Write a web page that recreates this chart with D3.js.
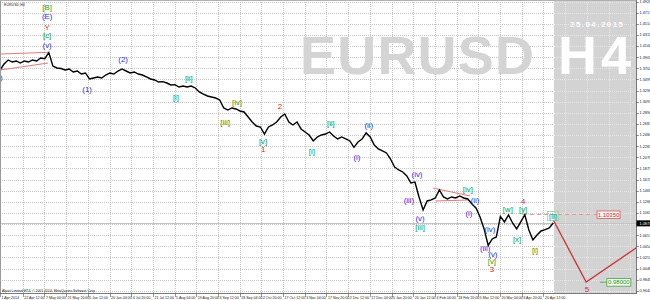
<!DOCTYPE html>
<html>
<head>
<meta charset="utf-8">
<script src="https://cdn.jsdelivr.net/npm/d3@7"></script>
<style>
body { margin: 0; background: #fff; }
svg { display: block; font-family: "Liberation Sans", Arial, sans-serif; }
.waves { opacity: 0.995; }
</style>
</head>
<body>
<div id="chart"></div>
<script>
/* EURUSD H4 wave count, 1 Apr 2014 - 25 Apr 2015 */

// closes, one every 12 H4 bars
var barStep = 12;
var closes = [
  1.3672, 1.3782, 1.3855, 1.3818, 1.3837, 1.3800, 1.3837, 1.3818, 1.3855, 1.3837,
  1.3891, 1.3880, 1.3990, 1.3745, 1.3709, 1.3700, 1.3672, 1.3691, 1.3636, 1.3654,
  1.3599, 1.3618, 1.3508, 1.3526, 1.3545, 1.3526, 1.3581, 1.3618, 1.3599, 1.3654,
  1.3691, 1.3654, 1.3618, 1.3636, 1.3599, 1.3581, 1.3545, 1.3508, 1.3490, 1.3453,
  1.3460, 1.3435, 1.3399, 1.3405, 1.3362, 1.3380, 1.3362, 1.3380, 1.3344, 1.3271,
  1.3234, 1.3198, 1.3180, 1.3161, 1.3125, 1.2979, 1.2942, 1.2979, 1.2961, 1.2924,
  1.2906, 1.2815, 1.2723, 1.2650, 1.2632, 1.2504, 1.2632, 1.2669, 1.2723, 1.2815,
  1.2870, 1.2723, 1.2669, 1.2723, 1.2596, 1.2541, 1.2486, 1.2377, 1.2450, 1.2486,
  1.2504, 1.2541, 1.2468, 1.2413, 1.2450, 1.2413, 1.2377, 1.2260, 1.2358, 1.2413,
  1.2523, 1.2450, 1.2304, 1.2231, 1.2194, 1.2158, 1.2048, 1.1902, 1.1847, 1.1811,
  1.1738, 1.1610, 1.1628, 1.1355, 1.1118, 1.1282, 1.1300, 1.1336, 1.1483, 1.1355,
  1.1318, 1.1355, 1.1336, 1.1373, 1.1336, 1.1318, 1.1227, 1.1154, 1.0990, 1.0771,
  1.0470, 1.0588, 1.0625, 1.1000, 1.0899, 1.1026, 1.0880, 1.0771, 1.0899, 1.1030,
  1.0753, 1.0570, 1.0661, 1.0734, 1.0760, 1.0789, 1.0880
];
var lastPrice = 1.0873;
var futureBar = 1634;

var priceTicks = [
  0.9642, 0.9845, 1.0048, 1.0251, 1.0454, 1.0657, 1.0860, 1.1063, 1.1266, 1.1469,
  1.1672, 1.1875, 1.2078, 1.2281, 1.2484, 1.2687, 1.2890, 1.3093, 1.3296, 1.3499,
  1.3702, 1.3905, 1.4108, 1.4311, 1.4514, 1.4717, 1.4920
];

var timeLabels = [
  "1 Apr 2014", "22 Apr 12:00", "7 May 04:00", "21 May 20:00", "5 Jun 12:00",
  "20 Jun 04:00", "4 Jul 20:00", "21 Jul 12:00", "5 Aug 04:00", "19 Aug 20:00",
  "3 Sep 12:00", "18 Sep 04:00", "2 Oct 20:00", "17 Oct 12:00", "3 Nov 04:00",
  "17 Nov 20:00", "2 Dec 12:00", "17 Dec 04:00", "5 Jan 20:00", "20 Jan 12:00",
  "4 Feb 04:00", "18 Feb 20:00", "5 Mar 12:00", "20 Mar 04:00", "3 Apr 20:00",
  "20 Apr 12:00"
];
var timeBars = [
  0, 67, 131, 195, 259, 323, 387, 451, 515, 579, 643, 707, 771, 835, 899, 963,
  1027, 1091, 1155, 1219, 1283, 1347, 1411, 1475, 1539, 1603
];
var gridBars = [
  67, 131, 195, 259, 323, 387, 451, 515, 579, 643, 707, 771, 835, 899, 963, 1027,
  1091, 1155, 1219, 1283, 1347, 1411, 1475, 1539, 1603, 1667, 1731, 1795, 1859
];

// wave labels: text, colour group, bar, price
var waveText  = ["(iv)", "[B]", "(E)", "Y", "[c]", "(v)", "(2)", "(1)", "[i]", "[ii]",
                 "[iii]", "[iv]", "2", "[v]", "1", "[i]", "[ii]", "(i)", "(ii)", "(iii)",
                 "(iv)", "(v)", "[iii]", "[iv]", "(ii)", "(i)", "(iv)", "(iii)", "(v)", "[v]",
                 "3", "[w]", "[x]", "4", "[y]", "[i]", "[ii]", "5"];
var waveGroup = ["b", "g", "b", "r", "g", "b", "b", "b", "g", "g",
                 "g", "g", "r", "g", "r", "g", "g", "b", "b", "b",
                 "b", "b", "g", "g", "b", "b", "b", "b", "b", "g",
                 "r", "g", "g", "r", "g", "g", "g", "r"];
var waveBar   = [-8, 139, 139, 139, 139, 139, 363, 257, 519, 557,
                 664, 699, 826, 776, 776, 920, 976, 1053, 1088, 1206,
                 1230, 1239, 1239, 1380, 1401, 1383, 1445, 1431, 1454, 1451,
                 1451, 1498, 1525, 1543, 1543, 1578, 1631, 1731];
var wavePrice = [1.3545, 1.4822, 1.4658, 1.4457, 1.4311, 1.4129, 1.3873, 1.3326, 1.3180, 1.3527,
                 1.2724, 1.3089, 1.3016, 1.2377, 1.2231, 1.2194, 1.2705, 1.2085, 1.2669, 1.1300,
                 1.1775, 1.0972, 1.0807, 1.1501, 1.1300, 1.1063, 1.0771, 1.0424, 1.0315, 1.0187,
                 1.0041, 1.1136, 1.0588, 1.1282, 1.1136, 1.0388, 1.1008, 0.9676];

// trend lines (bar1, price1, bar2, price2)
var wedgeLines = [
  [0, 1.3964, 142, 1.3995],
  [0, 1.3672, 142, 1.3800],
  [1277, 1.1519, 1386, 1.1373],
  [1286, 1.1282, 1383, 1.1300]
];
var targetLevel = { price: 1.10350, from: 1543, to: 1761 };
var forecastBars = [1632, 1729, 1880];
var forecastPrices = [1.0935, 0.9800, 1.0440];
var goalPrice = 0.98000;

var colors = { g: "#229a22", b: "#2c2ce8", r: "#e02424" };

(function (d3) {
  var W = 636, H = 293;
  var svg = d3.select("#chart").append("svg").attr("width", 650).attr("height", 300);

  var x = d3.scaleLinear().domain([0, 1876]).range([0, W]);
  var y = d3.scaleLinear().domain([0.962, 1.495]).range([292, 0]);

  var defs = svg.append("defs");
  defs.append("clipPath").attr("id", "clip")
      .append("rect").attr("width", W).attr("height", H);
  defs.append("clipPath").attr("id", "clipF")
      .append("rect").attr("x", x(futureBar)).attr("width", W - x(futureBar)).attr("height", H);

  var plot = svg.append("g").attr("clip-path", "url(#clip)");

  function drawGrid(g, color) {
    g.selectAll(".hg").data(priceTicks).enter().append("line")
     .attr("x1", 0).attr("x2", W)
     .attr("y1", function(d) { return Math.round(y(d)) + 0.5; })
     .attr("y2", function(d) { return Math.round(y(d)) + 0.5; })
     .attr("stroke", color).attr("stroke-dasharray", "1,1");
    g.selectAll(".vg").data(gridBars).enter().append("line")
     .attr("y1", 0).attr("y2", H)
     .attr("x1", function(d) { return Math.round(x(d)) + 0.5; })
     .attr("x2", function(d) { return Math.round(x(d)) + 0.5; })
     .attr("stroke", color).attr("stroke-dasharray", "1,1");
  }

  drawGrid(plot.append("g"), "#c6c6c6");

  // future zone
  plot.append("rect")
      .attr("x", x(futureBar)).attr("y", 0)
      .attr("width", W - x(futureBar)).attr("height", H)
      .attr("fill", "#d3d3d3");
  drawGrid(plot.append("g").attr("clip-path", "url(#clipF)"), "#e6e6e6");

  // watermark
  plot.append("text").text("EURUSD")
      .attr("x", 300).attr("y", 74).attr("textLength", 234)
      .attr("font-size", 54).attr("font-weight", "bold").attr("fill", "#d4d4d4");
  plot.append("text").text("H4")
      .attr("x", 558).attr("y", 74).attr("textLength", 73)
      .attr("font-size", 54).attr("font-weight", "bold").attr("fill", "#fff");
  plot.append("text").text("25.04.2015")
      .attr("x", 570).attr("y", 27).attr("textLength", 53)
      .attr("font-size", 8).attr("font-weight", "bold").attr("fill", "#fff");

  // bid line
  plot.append("line")
      .attr("x1", 0).attr("x2", W)
      .attr("y1", Math.round(y(lastPrice)) + 0.5).attr("y2", Math.round(y(lastPrice)) + 0.5)
      .attr("stroke", "#c4c4c4").attr("stroke-width", 1.2);

  // wedges
  plot.selectAll(".wedge").data(wedgeLines).enter().append("line")
      .attr("x1", function(d) { return x(d[0]); })
      .attr("y1", function(d) { return y(d[1]); })
      .attr("x2", function(d) { return x(d[2]); })
      .attr("y2", function(d) { return y(d[3]); })
      .attr("stroke", "#e07a7a").attr("stroke-width", 1);

  // target dashed level
  plot.append("line")
      .attr("x1", x(targetLevel.from)).attr("x2", x(targetLevel.to))
      .attr("y1", y(targetLevel.price)).attr("y2", y(targetLevel.price))
      .attr("stroke", "#e29a9a").attr("stroke-width", 1).attr("stroke-dasharray", "4,3");

  // price line
  var line = d3.line()
      .x(function(d, i) { return x(i * barStep); })
      .y(function(d) { return y(d); });
  plot.append("path").datum(closes)
      .attr("d", line)
      .attr("fill", "none").attr("stroke", "#000").attr("stroke-width", 1.4)
      .attr("stroke-linejoin", "miter");

  // forecast path
  var fline = d3.line()
      .x(function(d) { return x(d); })
      .y(function(d, i) { return y(forecastPrices[i]); });
  plot.append("path").datum(forecastBars)
      .attr("d", fline)
      .attr("fill", "none").attr("stroke", "#c83232").attr("stroke-width", 1.3);

  // wave labels
  plot.append("g").attr("class", "waves")
      .selectAll("text").data(waveText).enter().append("text")
      .text(function(d) { return d; })
      .attr("x", function(d, i) { return x(waveBar[i]); })
      .attr("y", function(d, i) { return y(wavePrice[i]); })
      .attr("dy", "0.35em")
      .attr("text-anchor", "middle")
      .attr("font-size", 7.8)
      .attr("fill", function(d, i) { return colors[waveGroup[i]]; });

  // [ii] box
  var bx = x(waveBar[36]), by = y(wavePrice[36]);
  plot.append("rect").attr("x", bx - 5.5).attr("y", by - 4.5).attr("width", 11).attr("height", 9)
      .attr("fill", "none").attr("stroke", "#9ccf9c").attr("stroke-width", 0.8);

  // price tags
  var tx = x(targetLevel.to);
  plot.append("rect").attr("x", tx).attr("y", y(targetLevel.price) - 3.5)
      .attr("width", 23).attr("height", 7.5)
      .attr("fill", "#fff4f4").attr("stroke", "#d45a5a").attr("stroke-width", 0.8);
  plot.append("text").text("1.10350")
      .attr("x", tx + 11.5).attr("y", y(targetLevel.price)).attr("dy", "0.35em")
      .attr("text-anchor", "middle").attr("font-size", 6).attr("fill", "#c83232");

  var gx = x(1790);
  plot.append("line").attr("x1", x(1770)).attr("x2", gx)
      .attr("y1", y(goalPrice)).attr("y2", y(goalPrice))
      .attr("stroke", "#3e9e3e").attr("stroke-width", 0.8);
  plot.append("rect").attr("x", gx).attr("y", y(goalPrice) - 3.5)
      .attr("width", 24).attr("height", 7.5)
      .attr("fill", "#f2fff2").attr("stroke", "#3e9e3e").attr("stroke-width", 0.8);
  plot.append("text").text("0.98000")
      .attr("x", gx + 12).attr("y", y(goalPrice)).attr("dy", "0.35em")
      .attr("text-anchor", "middle").attr("font-size", 6).attr("fill", "#2f8a2f");

  // small texts
  svg.append("text").text("EURUSD,H4")
      .attr("x", 4).attr("y", 5.5).attr("font-size", 3.6).attr("fill", "#222");
  svg.append("text").text("Alpari Limited MT4, \u00a9 2001-2014, MetaQuotes Software Corp.")
      .attr("x", 2).attr("y", 291.5).attr("font-size", 3.4).attr("fill", "#222");

  // frame & axes
  svg.append("line").attr("x1", 0.5).attr("x2", 0.5).attr("y1", 0).attr("y2", H)
      .attr("stroke", "#9a9a9a");
  svg.append("line").attr("x1", 0).attr("x2", W).attr("y1", 0.5).attr("y2", 0.5)
      .attr("stroke", "#b0b0b0");
  svg.append("line").attr("x1", W + 0.5).attr("x2", W + 0.5).attr("y1", 0).attr("y2", H + 1)
      .attr("stroke", "#7a7a7a").attr("stroke-width", 1);
  svg.append("line").attr("x1", 0).attr("x2", W).attr("y1", H + 0.5).attr("y2", H + 0.5)
      .attr("stroke", "#7a7a7a").attr("stroke-width", 1);

  var ra = svg.append("g");
  ra.selectAll("line").data(priceTicks).enter().append("line")
    .attr("x1", W).attr("x2", W + 3)
    .attr("y1", function(d) { return Math.round(y(d)) + 0.5; })
    .attr("y2", function(d) { return Math.round(y(d)) + 0.5; })
    .attr("stroke", "#555").attr("stroke-width", 0.6);
  ra.selectAll("text").data(priceTicks).enter().append("text")
    .text(function(d) { return d.toFixed(4); })
    .attr("x", W + 3.5).attr("y", function(d) { return y(d); }).attr("dy", "0.35em")
    .attr("font-size", 3.8).attr("fill", "#222");

  ra.append("rect").attr("x", W + 0.5).attr("y", y(lastPrice) - 3)
    .attr("width", 14).attr("height", 6).attr("fill", "#000");
  ra.append("text").text(lastPrice.toFixed(4))
    .attr("x", W + 3.5).attr("y", y(lastPrice)).attr("dy", "0.35em")
    .attr("font-size", 3.8).attr("fill", "#fff");

  var ba = svg.append("g");
  ba.selectAll("line").data(timeBars).enter().append("line")
    .attr("x1", function(d) { return Math.round(x(d)) + 0.5; })
    .attr("x2", function(d) { return Math.round(x(d)) + 0.5; })
    .attr("y1", H).attr("y2", H + 4)
    .attr("stroke", "#555").attr("stroke-width", 0.6);
  ba.selectAll("text").data(timeLabels).enter().append("text")
    .text(function(d) { return d; })
    .attr("x", function(d, i) { return x(timeBars[i]) + 1.5; })
    .attr("y", 298.5)
    .attr("font-size", 3.6).attr("fill", "#222");
})(d3);
</script>
</body>
</html>
